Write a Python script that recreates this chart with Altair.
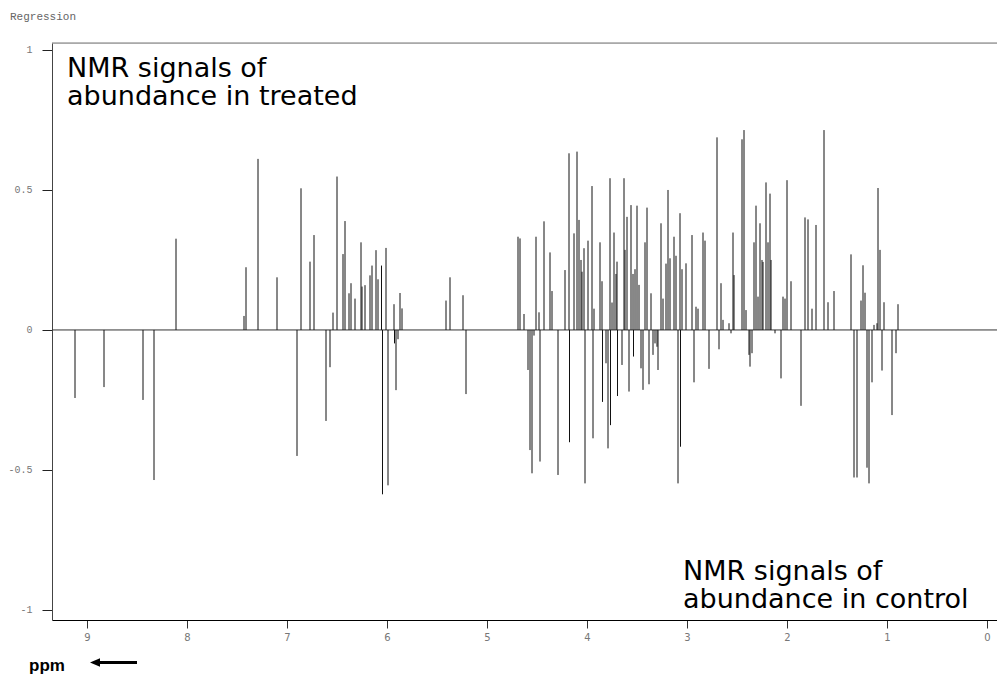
import altair as alt
import pandas as pd

# Spike positions (ppm) and regression coefficients
ppm = [9.12, 8.83, 8.44, 8.33, 8.11, 7.43, 7.41, 7.29, 7.10, 6.90,
       6.86, 6.77, 6.73, 6.61, 6.57, 6.54, 6.50, 6.44, 6.42, 6.38,
       6.36, 6.32, 6.26, 6.25, 6.22, 6.17, 6.15, 6.11, 6.09, 6.055,
       6.045, 6.01, 5.99, 5.93, 5.925, 5.91, 5.89, 5.87, 5.85, 5.41,
       5.37, 5.24, 5.21, 4.69, 4.67, 4.63, 4.59, 4.57, 4.55, 4.53,
       4.51, 4.48, 4.47, 4.43, 4.37, 4.35, 4.29, 4.22, 4.18, 4.175,
       4.13, 4.10, 4.08, 4.06, 4.05, 4.03, 4.02, 3.99, 3.95, 3.94,
       3.93, 3.87, 3.85, 3.845, 3.81, 3.79, 3.77, 3.765, 3.75, 3.73,
       3.71, 3.70, 3.695, 3.65, 3.63, 3.62, 3.60, 3.58, 3.56, 3.54,
       3.535, 3.52, 3.50, 3.48, 3.46, 3.44, 3.42, 3.40, 3.38, 3.36,
       3.34, 3.32, 3.30, 3.29, 3.26, 3.24, 3.21, 3.19, 3.17, 3.13,
       3.11, 3.09, 3.07, 3.065, 3.05, 3.01, 2.95, 2.93, 2.91, 2.89,
       2.84, 2.82, 2.78, 2.70, 2.68, 2.66, 2.64, 2.58, 2.56, 2.54,
       2.53, 2.45, 2.43, 2.41, 2.38, 2.37, 2.35, 2.33, 2.31, 2.29,
       2.27, 2.25, 2.24, 2.21, 2.19, 2.17, 2.16, 2.12, 2.06, 2.04,
       2.02, 2.00, 1.96, 1.86, 1.82, 1.79, 1.75, 1.71, 1.63, 1.59,
       1.53, 1.36, 1.33, 1.30, 1.26, 1.24, 1.22, 1.20, 1.18, 1.15,
       1.13, 1.10, 1.09, 1.07, 1.05, 1.03, 0.95, 0.91, 0.89]

coef = [-0.243, -0.204, -0.25, -0.536, 0.326, 0.05, 0.224, 0.611, 0.188, -0.45,
        0.506, 0.244, 0.339, -0.325, -0.133, 0.062, 0.548, 0.271, 0.389, 0.131,
        0.167, 0.112, 0.313, 0.155, 0.16, 0.195, 0.23, 0.285, 0.181, 0.23,
        -0.587, 0.293, -0.555, 0.092, -0.048, -0.215, -0.033, 0.132, 0.077, 0.105,
        0.188, 0.124, -0.229, 0.333, 0.327, 0.057, -0.143, -0.429, -0.512, -0.02,
        0.333, 0.063, -0.47, 0.388, 0.277, 0.139, -0.518, 0.214, 0.631, -0.401,
        0.345, 0.637, 0.393, 0.25, 0.208, 0.292, -0.548, 0.319, 0.514, -0.387,
        0.076, 0.313, 0.174, -0.257, -0.119, -0.423, 0.542, -0.34, 0.098, 0.348,
        0.2, 0.244, -0.236, -0.125, 0.542, 0.286, 0.404, -0.22, 0.446, 0.2,
        -0.095, 0.217, 0.444, 0.161, -0.137, -0.214, 0.313, 0.437, -0.194, 0.131,
        -0.089, -0.048, -0.06, -0.143, 0.381, 0.112, 0.237, 0.5, 0.256, 0.333,
        0.265, -0.548, 0.417, -0.417, 0.217, 0.238, 0.339, -0.187, 0.083, 0.076,
        0.348, 0.319, -0.139, 0.688, -0.069, 0.167, 0.036, 0.024, -0.012, 0.348,
        0.196, 0.681, 0.714, 0.071, -0.089, -0.131, -0.083, 0.313, 0.444, 0.119,
        0.381, 0.25, 0.243, 0.527, 0.313, 0.487, 0.25, -0.012, -0.173, 0.119,
        0.112, 0.535, 0.174, -0.271, 0.402, 0.395, 0.076, 0.375, 0.714, 0.099,
        0.139, 0.27, -0.527, -0.527, 0.105, 0.231, 0.133, -0.492, -0.548, -0.187,
        0.018, 0.024, 0.507, 0.286, -0.145, 0.099, -0.304, -0.083, 0.092]

assert len(ppm) == len(coef)

x_ticks = [0, 1, 2, 3, 4, 5, 6, 7, 8, 9]
y_ticks = [-1, -0.5, 0, 0.5, 1]
x_domain = [-0.10, 9.35]
y_domain = [-1.036, 1.025]

treated_lines = ["NMR signals of", "abundance in treated"]
control_lines = ["NMR signals of", "abundance in control"]

W, H = 945, 577

df = pd.DataFrame({"ppm": ppm, "coef": coef})

xscale = alt.Scale(domain=x_domain, reverse=True, nice=False, zero=False)
yscale = alt.Scale(domain=y_domain, nice=False, zero=False)

xaxis = alt.Axis(values=x_ticks, title=None, grid=False, tickSize=8,
                 labelPadding=4, labelFont="DejaVu Sans", labelFontSize=10,
                 labelColor="#777", domainColor="#000", tickColor="#333",
                 labelExpr="'' + datum.value")
yaxis = alt.Axis(values=y_ticks, title=None, grid=False, tickSize=10,
                 labelPadding=10, labelFont="Liberation Mono", labelFontSize=10,
                 labelColor="#777", domainColor="#444", tickColor="#222",
                 labelExpr="'' + datum.value")

base = alt.Chart(df)

spikes = base.mark_rule(color="#111", strokeWidth=1, clip=True).encode(
    x=alt.X("ppm:Q", scale=xscale, axis=xaxis),
    y=alt.Y("coef:Q", scale=yscale, axis=yaxis),
    y2=alt.datum(0),
)

zero_line = alt.Chart(pd.DataFrame({"z": [0]})).mark_rule(
    color="#333", strokeWidth=1).encode(
    y=alt.Y("z:Q", scale=yscale, axis=yaxis),
)

one = pd.DataFrame({"a": [0]})
top_border = alt.Chart(one).mark_rule(color="#777", strokeWidth=1).encode(
    x=alt.value(0), x2=alt.value(W), y=alt.value(0))

layers = [zero_line, spikes, top_border]


def txt(s, x, y, size, font="Liberation Sans", weight="normal", color="#000",
        align="left", baseline="alphabetic", line_height=None):
    kw = dict(text=s, font=font, fontSize=size, fontWeight=weight, color=color,
              align=align, baseline=baseline)
    if line_height is not None:
        kw["lineHeight"] = line_height
    return alt.Chart(one).mark_text(**kw).encode(x=alt.value(x), y=alt.value(y))


layers.append(txt("Regression", -42, -26, 11, font="Liberation Mono",
                  color="#666", baseline="middle"))
layers.append(txt(treated_lines, 15, 34, 27, font="DejaVu Sans", line_height=28))
layers.append(txt(control_lines, 631, 537, 27, font="DejaVu Sans", line_height=28))
layers.append(txt("ppm", -23, 628, 17, weight="bold"))

arrow_line = alt.Chart(one).mark_rule(color="#000", strokeWidth=3).encode(
    x=alt.value(47), x2=alt.value(85), y=alt.value(619.5))
arrow_head = alt.Chart(one).mark_point(
    shape="M -1 0 L 1 -0.85 L 1 0.85 Z", size=100, filled=True,
    color="#000", opacity=1).encode(x=alt.value(43), y=alt.value(619.5))
layers += [arrow_line, arrow_head]

chart = alt.layer(*layers).properties(
    width=W, height=H,
    autosize=alt.AutoSizeParams(type="none"),
    padding={"left": 44, "top": 35, "right": 0, "bottom": 56},
).configure_view(stroke=None).configure(background="white")

chart.save("out.html", embed_options={"renderer": "svg", "actions": False})
